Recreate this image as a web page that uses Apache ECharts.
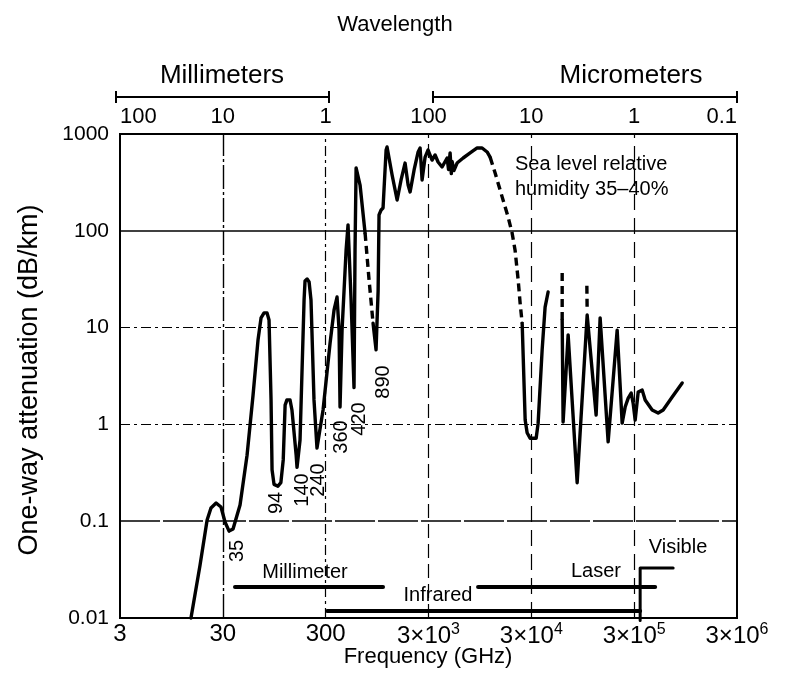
<!DOCTYPE html>
<html><head><meta charset="utf-8">
<script src="https://cdn.jsdelivr.net/npm/echarts@6/dist/echarts.min.js"></script>
<style>html,body{margin:0;padding:0;background:#fff}#c{width:791px;height:688px}</style>
</head><body><div id="c"></div>
<script>
const FONT = '"Liberation Sans", Arial, Helvetica, sans-serif';

// ---- tick labels ----
const freqTickLabels = ['3', '30', '300', '3×10{s|3}', '3×10{s|4}', '3×10{s|5}', '3×10{s|6}'];
const wavelengthTickLabels = ['100', '10', '1', '100', '10', '1', '0.1'];
const attenTickLabels = ['0.01', '0.1', '1', '10', '100', '1000'];

// ---- attenuation curve: [frequency GHz, dB/km] ----
const curveMmSolid = [
  [14.7,0.01],[18.0,0.035],[21.1,0.103],[23.0,0.137],[25.8,0.154],[28.8,0.140],[31.5,0.098],
  [34.5,0.079],[37.7,0.083],[44.1,0.147],[51.6,0.48],[59.0,2.0],[66.0,7.5],[70.6,12.6],
  [75.5,14.2],[80.7,14.2],[84.4,12.0],[88.3,1.8],[90.3,0.34],[94.4,0.24],[103,0.23],[110,0.25],
  [116,0.43],[121,1.58],[126,1.79],[135,1.79],[141,1.41],[155,0.48],[158,0.36],[169,0.69],
  [185,19.3],[189,30.3],[198,31.8],[207,29.6],[216,19.3],[231,1.79],[247,0.57],[283,1.41],
  [331,6.9],[362,15.2],[387,20.7],[405,9.4],[414,1.51],[433,9.4],[474,63],[495,115],[530,19.3],
  [566,2.4],[579,63],[593,446],[620,456],[648,297],[725,95]
];
const curveDashA = [[725,95],[793,31],[867,11.1]];
const curveSubmmSolid = [
  [867,11.1],[927,5.9],[971,24],[991,146],[1038,164],[1084,172],[1161,683],[1186,735],[1328,377],
  [1486,208],[1623,335],[1775,501],[1901,297],[1987,252],[2173,425],[2378,652],[2486,717],
  [2599,335],[2780,578],[2972,683],[3251,538],[3477,607],[3718,514],[4066,456],[4551,565],
  [4700,430],[4866,637],[5000,390],[5093,520],[5300,420],[5691,501],[6519,565],[7623,637],
  [8916,717],[9963,717],[11145,652],[11916,578]
];
const curveDashB = [[11916,578],[13338,395],[15600,224],[17829,139],[19503,95],[20850,63],
  [22341,31],[23340,17.9],[24435,11.1]];
const curveIrSolid1 = [[24435,11.1],[26130,1.11],[27300,0.82],[29180,0.72],[33420,0.72],
  [34920,1.03],[38220,5.9],[40830,16.3],[43680,23.3]];
const curveDashC = [[59850,36.6],[59850,12.0]];
const curveDashD = [[104000,27],[104700,15]];
const curveIrSolid2 = [
  [59850,12.0],[61110,1.06],[68400,8.4],[83700,0.25],[104700,13.5],[128000,1.25],[140000,12.6],
  [167500,0.66],[205000,9.4],[229300,1.03],[245100,1.51],[262500,1.87],[280600,2.11],
  [293100,1.66],[306900,1.11],[328200,2.16],[359100,2.26],[383800,1.79],[448800,1.41],
  [513000,1.31],[574100,1.41],[703100,1.92],[879300,2.68]
];

// ---- spectral bands: [frequency GHz, level] ----
const bandMillimeter = [[39.4,0.0209],[1084,0.0209]];
const bandInfrared = [[310,0.0118],[343000,0.0118]];
const bandLaser = [[9100,0.0209],[480000,0.0209]];
const bandVisible = [[343000,0.0094],[343000,0.0329],[718000,0.0329]];

const chart = echarts.init(document.getElementById('c'), null, {renderer: 'canvas'});

function curve(data, dashed, w) {
  return {
    type: 'line', xAxisIndex: 0, yAxisIndex: 0, data: data, symbol: 'none', silent: true,
    animation: false, z: 5, clip: false,
    lineStyle: {color: '#000', width: w || 3.4, type: dashed ? [8, 5] : 'solid', cap: dashed ? 'butt' : 'round', join: 'round'}
  };
}
const dd = [10, 4, 3, 4];
const gridSeries = {
  type: 'line', xAxisIndex: 0, yAxisIndex: 0, data: [], silent: true, animation: false, z: 2,
  markLine: {
    silent: true, symbol: 'none', animation: false, label: {show: false},
    lineStyle: {color: '#000', width: 1.2},
    data: [
      {yAxis: 100, lineStyle: {type: 'solid', width: 1.6}},
      {yAxis: 10, lineStyle: {type: dd}},
      {yAxis: 1, lineStyle: {type: dd}},
      {yAxis: 0.1, lineStyle: {type: [40, 3], width: 1.6}},
      {xAxis: 30, lineStyle: {type: [24, 3, 3, 3], width: 1.4}},
      {xAxis: 300, lineStyle: {type: dd}},
      {xAxis: 3000, lineStyle: {type: [14, 6]}},
      {xAxis: 30000, lineStyle: {type: [16, 8]}},
      {xAxis: 300000, lineStyle: {type: [16, 8]}}
    ]
  }
};

const txt = (text, x, y, size, extra, align) => Object.assign({
  type: 'text', x: x, y: y, silent: true,
  style: {text: text, fill: '#000', fontSize: size, fontFamily: FONT, align: align || 'center', verticalAlign: 'middle'}
}, extra || {});
const rot = (text, x, y) => txt(text, x, y, 20, {rotation: Math.PI / 2});
const ln = (x1, y1, x2, y2, w) => ({type: 'line', silent: true, shape: {x1, y1, x2, y2}, style: {stroke: '#000', lineWidth: w || 2}});

chart.setOption({
  backgroundColor: '#fff',
  animation: false,
  grid: {left: 120, top: 134, width: 617, height: 484, show: true, borderColor: '#000', borderWidth: 2, backgroundColor: 'transparent'},
  xAxis: [
    {type: 'log', logBase: 10, min: 3, max: 3e6, show: false, gridIndex: 0},
    {type: 'value', min: 0, max: 6, interval: 1, position: 'bottom', gridIndex: 0,
      axisLine: {show: false}, axisTick: {show: false}, splitLine: {show: false},
      axisLabel: {color: '#000', fontSize: 24, fontFamily: FONT, margin: 4,
        formatter: v => freqTickLabels[Math.round(v)],
        rich: {s: {fontSize: 16, fontFamily: FONT, color: '#000', padding: [0, 0, 12, 0]}}}},
    {type: 'value', min: 0, max: 6, interval: 1, position: 'top', gridIndex: 0,
      axisLine: {show: false}, axisTick: {show: false}, splitLine: {show: false},
      axisLabel: {color: '#000', fontSize: 22, fontFamily: FONT, margin: 6,
        alignMinLabel: 'left', alignMaxLabel: 'right',
        formatter: v => wavelengthTickLabels[Math.round(v)]}}
  ],
  yAxis: [
    {type: 'log', logBase: 10, min: 0.01, max: 1000,
      axisLine: {show: false}, axisTick: {show: false}, splitLine: {show: false},
      axisLabel: {color: '#000', fontSize: 21, fontFamily: FONT, margin: 11,
        formatter: v => attenTickLabels[Math.round(Math.log10(v)) + 2]}}
  ],
  series: [
    gridSeries,
    curve(curveMmSolid), curve(curveDashA, true), curve(curveSubmmSolid), curve(curveDashB, true),
    curve(curveIrSolid1), curve(curveDashC, true), curve(curveDashD, true), curve(curveIrSolid2),
    curve(bandMillimeter, false, 4), curve(bandInfrared, false, 4), curve(bandLaser, false, 4),
    curve(bandVisible, false, 3)
  ],
  graphic: [
    txt('Wavelength', 395, 25, 22),
    txt('Millimeters', 222, 76, 26),
    txt('Micrometers', 631, 76, 26),
    ln(116, 97, 329, 97), ln(116, 91, 116, 103), ln(329, 91, 329, 103),
    ln(433, 97, 737, 97), ln(433, 91, 433, 103), ln(737, 91, 737, 103),
    txt('One-way attenuation (dB/km)', 30, 380, 27, {rotation: Math.PI / 2}),
    txt('Frequency (GHz)', 428, 657, 22),
    txt('Sea level relative', 515, 164, 20, null, 'left'),
    txt('humidity 35–40%', 515, 189, 20, null, 'left'),
    rot('35', 237, 551), rot('94', 276, 503), rot('140', 302, 490), rot('240', 318, 480),
    rot('360', 341, 437), rot('420', 359, 419), rot('890', 383, 382),
    txt('Millimeter', 305, 572, 20), txt('Infrared', 438, 595, 20),
    txt('Laser', 596, 571, 20), txt('Visible', 678, 547, 20)
  ]
});
</script></body></html>
